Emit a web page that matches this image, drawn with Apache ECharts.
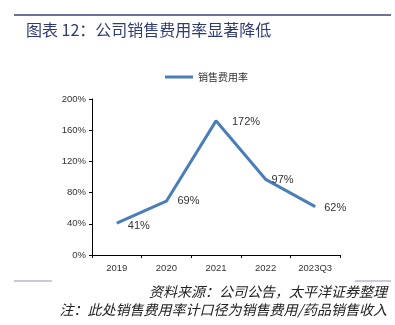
<!DOCTYPE html>
<html><head><meta charset="utf-8">
<script src="https://cdn.jsdelivr.net/npm/echarts@6/dist/echarts.min.js"></script>
<style>html,body{margin:0;padding:0;background:#fff}#c{width:395px;height:325px}</style>
</head><body><div id="c"></div>
<script>
const categories = ['2019','2020','2021','2022','2023Q3'];
const salesRatio = [41, 69, 172, 97, 62];
const yTicks = [0, 40, 80, 120, 160, 200];
const title = '图表 12：公司销售费用率显著降低';
const seriesName = '销售费用率';
const source = '资料来源：公司公告，太平洋证券整理';
const note = '注：此处销售费用率计口径为销售费用/药品销售收入';

const labelOffsets = [[22,3],[22,0],[30,1],[17,1],[20,1]];
const chart = echarts.init(document.getElementById('c'));
chart.setOption({
  animation: false,
  graphic: [
    {type:'line', shape:{x1:14,y1:15,x2:391,y2:15}, style:{stroke:'#6f6f9f', lineWidth:2}},
    {type:'text', left:26, top:22, style:{text:title, fill:'#2f3b73', font:'16px "Noto Sans CJK SC"'}},
    {type:'line', shape:{x1:14,y1:281,x2:52,y2:281}, style:{stroke:'#b9b9d2', lineWidth:1.5}},
    {type:'line', shape:{x1:355,y1:281,x2:391,y2:281}, style:{stroke:'#b9b9d2', lineWidth:1.5}},
    {type:'text', right:8, top:285, style:{text:source, fill:'#222', font:'italic 14px "Noto Sans CJK SC"', align:'right'}},
    {type:'text', right:8, top:303, style:{text:note, fill:'#222', font:'italic 14px "Noto Sans CJK SC"', align:'right'}}
  ],
  legend: {
    top: 67, left: 160,
    itemWidth: 28, itemHeight: 3, itemGap: 3,
    icon: 'rect',
    textStyle: {fontSize: 10, color: '#333', fontFamily: '"Noto Sans CJK SC"'},
    data: [seriesName]
  },
  grid: {left: 92, right: 55, top: 99, bottom: 70, containLabel: false},
  xAxis: {
    type: 'category', data: categories, boundaryGap: true,
    axisLine: {lineStyle: {color: '#000', width: 1}},
    axisTick: {show: true, length: 3, lineStyle: {color: '#000'}},
    axisLabel: {fontSize: 9.5, color: '#333', fontFamily: 'Liberation Sans', margin: 8}
  },
  yAxis: {
    type: 'value', min: 0, max: 200, interval: 40,
    axisLine: {show: true, lineStyle: {color: '#000', width: 1}},
    axisTick: {show: true, length: 3, lineStyle: {color: '#000'}},
    splitLine: {show: false},
    axisLabel: {fontSize: 9.5, color: '#333', fontFamily: 'Liberation Sans', margin: 6,
      formatter: v => yTicks.includes(v) ? v + '%' : ''}
  },
  series: [{
    name: seriesName, type: 'line',
    data: salesRatio.map((v,i) => ({value: v, label: {offset: labelOffsets[i]}})),
    symbol: 'circle', symbolSize: 0, showSymbol: true,
    lineStyle: {color: '#4a7ebb', width: 3},
    itemStyle: {color: '#4a7ebb'},
    label: {show: true, position: 'inside', formatter: p => p.value + '%',
      fontSize: 11, color: '#333', fontFamily: 'Liberation Sans'}
  }]
});
</script></body></html>
